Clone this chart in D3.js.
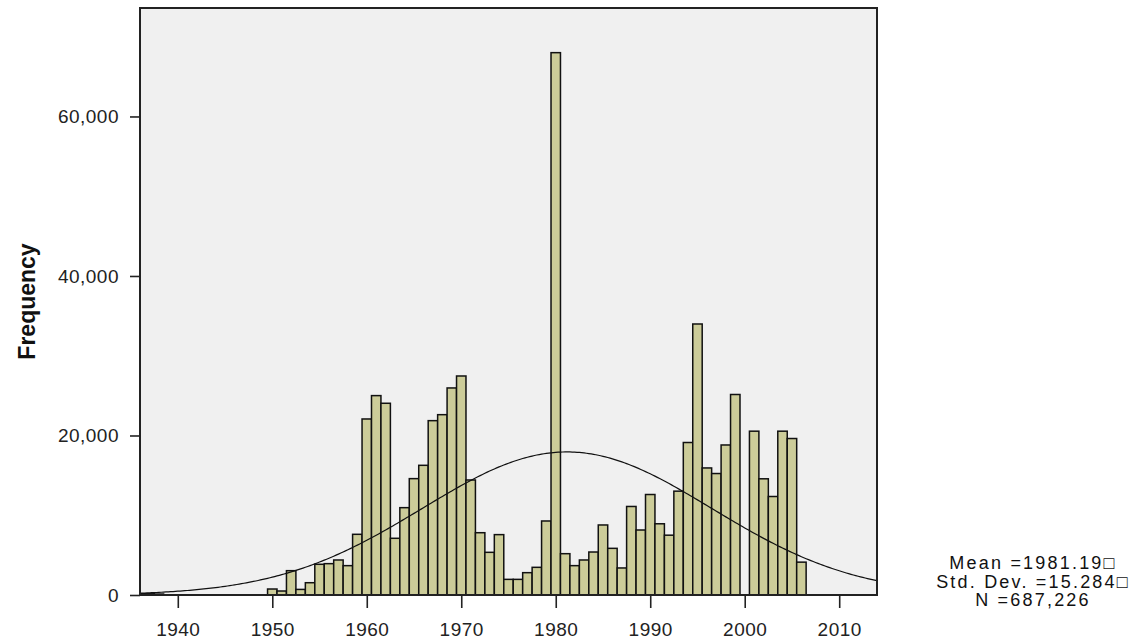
<!DOCTYPE html>
<html>
<head>
<meta charset="utf-8">
<script src="https://cdn.jsdelivr.net/npm/d3@7"></script>
<style>
  body { margin: 0; background: #fff; }
  text { font-family: "Liberation Sans", Arial, sans-serif; }
</style>
</head>
<body>
<script>
// histogram bins (1-year wide, centred on the year)
var years = [1936, 1937, 1938, 1939, 1940, 1941, 1942, 1943, 1944, 1945, 1946, 1947, 1948, 1949,
	1950, 1951, 1952, 1953, 1954, 1955, 1956, 1957, 1958, 1959,
	1960, 1961, 1962, 1963, 1964, 1965, 1966, 1967, 1968, 1969,
	1970, 1971, 1972, 1973, 1974, 1975, 1976, 1977, 1978, 1979,
	1980, 1981, 1982, 1983, 1984, 1985, 1986, 1987, 1988, 1989,
	1990, 1991, 1992, 1993, 1994, 1995, 1996, 1997, 1998, 1999,
	2000, 2001, 2002, 2003, 2004, 2005, 2006];
var counts = [150, 150, 120, 0, 0, 0, 0, 0, 0, 0, 0, 0, 0, 0,
	750, 500, 3050, 700, 1540, 3850, 3930, 4390, 3680, 7610,
	22070, 25000, 24040, 7110, 10950, 14590, 16260, 21860, 22610, 25960,
	27460, 14420, 7810, 5350, 7570, 1960, 1960, 2800, 3470, 9280,
	68000, 5180, 3680, 4390, 5390, 8780, 5850, 3390, 11100, 8150,
	12600, 8930, 7500, 13020, 19120, 33980, 15930, 15230, 18810, 25140,
	0, 20540, 14570, 12350, 20540, 19620, 4120];

var xTicks = [1940, 1950, 1960, 1970, 1980, 1990, 2000, 2010];
var yTicks = [0, 20000, 40000, 60000];

var mean = 1981.19, sd = 15.284, n = 687226;
var statLines = ["Mean =1981.19\u25A1", "Std. Dev. =15.284\u25A1", "N =687,226"];

var w = 1148, h = 642;
var pLeft = 140, pRight = 877, pTop = 8, pBottom = 595;

var svg = d3.select("body")
	.append("svg")
	.attr("width", w)
	.attr("height", h);

var xScale = d3.scaleLinear()
	.domain([1936, 2014])
	.range([pLeft, pRight]);
var yScale = d3.scaleLinear()
	.domain([0, 73600])
	.range([pBottom, pTop]);

// plot background
svg.append("rect")
	.attr("x", pLeft)
	.attr("y", pTop)
	.attr("width", pRight - pLeft)
	.attr("height", pBottom - pTop)
	.attr("fill", "#f0f0f0");

svg.append("clipPath")
	.attr("id", "plotclip")
	.append("rect")
	.attr("x", pLeft)
	.attr("y", pTop)
	.attr("width", pRight - pLeft)
	.attr("height", pBottom - pTop);

var plot = svg.append("g").attr("clip-path", "url(#plotclip)");

var bins = years.map(function(y, i) { return { year: y, count: counts[i] }; })
	.filter(function(d) { return d.count > 0; });

plot.selectAll("rect.bar")
	.data(bins)
	.enter()
	.append("rect")
	.attr("class", "bar")
	.attr("x", function(d) { return xScale(d.year - 0.5); })
	.attr("width", function(d) { return xScale(d.year + 0.5) - xScale(d.year - 0.5); })
	.attr("y", function(d) { return yScale(d.count); })
	.attr("height", function(d) { return yScale(0) - yScale(d.count); })
	.attr("fill", "#cccc99")
	.attr("stroke", "#111")
	.attr("stroke-width", 1.5);

// normal curve scaled to bin width 1
var peak = n / (sd * Math.sqrt(2 * Math.PI));
var curveX = d3.range(1936, 2014.01, 0.25);
var line = d3.line()
	.x(function(d) { return xScale(d); })
	.y(function(d) { return yScale(peak * Math.exp(-0.5 * Math.pow((d - mean) / sd, 2))); });

plot.append("path")
	.datum(curveX)
	.attr("d", line)
	.attr("fill", "none")
	.attr("stroke", "#111")
	.attr("stroke-width", 1.2);

// frame
svg.append("rect")
	.attr("x", pLeft)
	.attr("y", pTop)
	.attr("width", pRight - pLeft)
	.attr("height", pBottom - pTop)
	.attr("fill", "none")
	.attr("stroke", "#222")
	.attr("stroke-width", 2);

// axes
var xAxis = d3.axisBottom(xScale)
	.tickValues(xTicks)
	.tickFormat(d3.format("d"))
	.tickSize(13)
	.tickPadding(15);
var gx = svg.append("g")
	.attr("transform", "translate(0," + pBottom + ")")
	.call(xAxis);
gx.select(".domain").remove();
gx.selectAll("line").attr("stroke", "#222").attr("stroke-width", 1.6);
gx.selectAll("text")
	.attr("font-size", "19px")
	.attr("letter-spacing", "0.5px")
	.attr("fill", "#222");

var yAxis = d3.axisLeft(yScale)
	.tickValues(yTicks)
	.tickFormat(d3.format(","))
	.tickSize(10)
	.tickPadding(11);
var gy = svg.append("g")
	.attr("transform", "translate(" + pLeft + ",0)")
	.call(yAxis);
gy.select(".domain").remove();
gy.selectAll("line").attr("stroke", "#222").attr("stroke-width", 1.6);
gy.selectAll("text")
	.attr("font-size", "19px")
	.attr("letter-spacing", "0.5px")
	.attr("fill", "#222");

svg.append("text")
	.attr("transform", "translate(35," + ((pTop + pBottom) / 2) + ") rotate(-90)")
	.attr("text-anchor", "middle")
	.attr("font-size", "23px")
	.attr("font-weight", "bold")
	.attr("fill", "#111")
	.text("Frequency");

svg.selectAll("text.stat")
	.data(statLines)
	.enter()
	.append("text")
	.attr("class", "stat")
	.attr("x", 1033)
	.attr("y", function(d, i) { return 569 + i * 18.5; })
	.attr("text-anchor", "middle")
	.attr("font-size", "18px")
	.attr("letter-spacing", "2.2px")
	.attr("fill", "#111")
	.text(function(d) { return d; });
</script>
</body>
</html>
